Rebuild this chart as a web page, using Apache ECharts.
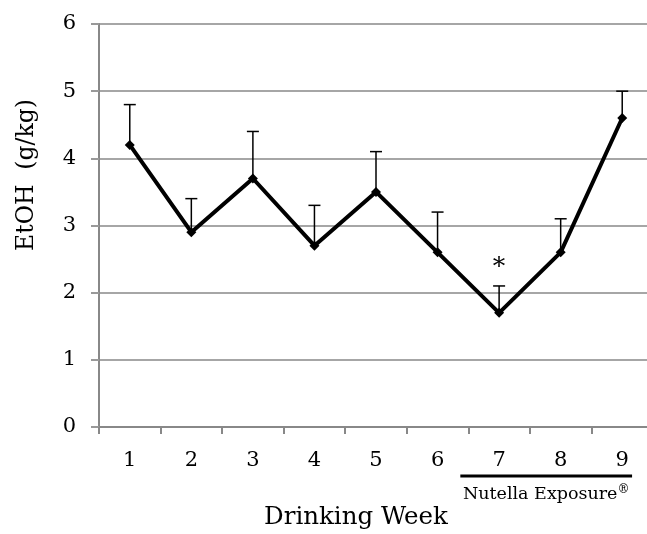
<!DOCTYPE html>
<html>
<head>
<meta charset="utf-8">
<script src="https://cdn.jsdelivr.net/npm/echarts@6.0.0/dist/echarts.min.js"></script>
<style>
  html, body { margin: 0; padding: 0; background: #fff; }
  #chart { width: 647px; height: 534px; }
</style>
</head>
<body>
<div id="chart"></div>
<script>
// Weekly EtOH intake, mean with upper error bar
const weeks = ['1', '2', '3', '4', '5', '6', '7', '8', '9'];
const meanValues = [4.2, 2.9, 3.7, 2.7, 3.5, 2.6, 1.7, 2.6, 4.6];
const upperValues = [4.8, 3.4, 4.4, 3.3, 4.1, 3.2, 2.1, 3.1, 5.0];
const significance = ['', '', '', '', '', '', '*', '', ''];
const yTicks = [0, 1, 2, 3, 4, 5, 6];

const FONT = 'DejaVu Serif';
const chart = echarts.init(document.getElementById('chart'));

const errorData = weeks.map((w, i) => [i, meanValues[i], upperValues[i]]);

const option = {
    animation: false,
    backgroundColor: '#fff',
    // the plot runs a few pixels past the right edge in the original
    grid: { left: 99, right: -6, top: 24, bottom: 107, outerBoundsMode: 'none', containLabel: false },
    xAxis: {
        type: 'category',
        data: weeks,
        boundaryGap: true,
        axisLine: { lineStyle: { color: '#888', width: 2 } },
        axisTick: { show: true, length: 7, lineStyle: { color: '#888', width: 2 } },
        axisLabel: { margin: 23, fontFamily: FONT, fontSize: 21, color: '#000' },
        splitLine: { show: false }
    },
    yAxis: {
        type: 'value',
        min: yTicks[0],
        max: yTicks[yTicks.length - 1],
        interval: 1,
        axisLine: { show: true, lineStyle: { color: '#888', width: 2 } },
        axisTick: { show: true, length: 8, lineStyle: { color: '#999', width: 2 } },
        axisLabel: { margin: 23, fontFamily: FONT, fontSize: 21, color: '#000' },
        splitLine: { show: true, lineStyle: { color: '#a6a6a6', width: 2 } }
    },
    series: [
        {
            type: 'custom',
            z: 1,
            data: errorData,
            renderItem: function (params, api) {
                const x = api.value(0);
                const p0 = api.coord([x, api.value(1)]);
                const p1 = api.coord([x, api.value(2)]);
                const mark = significance[params.dataIndex];
                const style = { stroke: '#000', lineWidth: 1.5 };
                const children = [
                    { type: 'line', shape: { x1: p0[0], y1: p0[1], x2: p1[0], y2: p1[1] }, style: style },
                    { type: 'line', shape: { x1: p1[0] - 6, y1: p1[1], x2: p1[0] + 6, y2: p1[1] }, style: style }
                ];
                if (mark) {
                    children.push({
                        type: 'text',
                        style: {
                            text: mark, x: p1[0], y: p1[1] - 6,
                            align: 'center', verticalAlign: 'bottom',
                            font: '25px "' + FONT + '"', fill: '#000'
                        }
                    });
                }
                return { type: 'group', children: children };
            }
        },
        {
            type: 'line',
            z: 2,
            data: meanValues,
            symbol: 'diamond',
            symbolSize: 10,
            lineStyle: { color: '#000', width: 4 },
            itemStyle: { color: '#000' }
        }
    ]
};

chart.setOption(option);

// Exposure bracket under weeks 7-9, placed from the category axis
const c7 = chart.convertToPixel({ xAxisIndex: 0 }, '7');
const c8 = chart.convertToPixel({ xAxisIndex: 0 }, '8');
const c9 = chart.convertToPixel({ xAxisIndex: 0 }, '9');
const band = c8 - c7;
const lineStart = c7 - 0.63 * band;
const lineEnd = c9 + 0.16 * band;

chart.setOption({
    graphic: [
        {
            type: 'line',
            shape: { x1: lineStart, y1: 476, x2: lineEnd, y2: 476 },
            style: { stroke: '#000', lineWidth: 3 }
        },
        {
            type: 'text',
            x: (lineStart + lineEnd) / 2,
            y: 494,
            style: {
                text: '{a|Nutella Exposure}{b|®}',
                align: 'center', verticalAlign: 'middle',
                rich: {
                    a: { fontFamily: FONT, fontSize: 17.5, fill: '#000' },
                    b: { fontFamily: FONT, fontSize: 12, fill: '#000', padding: [0, 0, 8, 0] }
                }
            }
        },
        {
            type: 'text',
            x: 356,
            y: 518,
            style: {
                text: 'Drinking Week',
                align: 'center', verticalAlign: 'middle',
                font: '24.5px "' + FONT + '"', fill: '#000'
            }
        },
        {
            type: 'text',
            x: 27,
            y: 175,
            rotation: Math.PI / 2,
            style: {
                text: 'EtOH  (g/kg)',
                align: 'center', verticalAlign: 'middle',
                font: '23.5px "' + FONT + '"', fill: '#000'
            }
        }
    ]
});
</script>
</body>
</html>
